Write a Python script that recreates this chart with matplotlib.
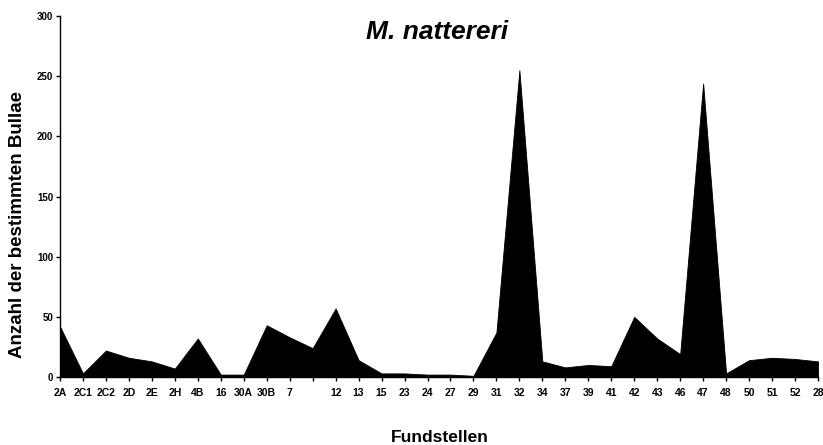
import matplotlib
matplotlib.use("Agg")
import matplotlib.pyplot as plt
import numpy as np

# Fundstellen (sites) along the x axis; one slot is left unlabeled
sites = ["2A", "2C1", "2C2", "2D", "2E", "2H", "4B", "16", "30A", "30B", "7", "",
         "12", "13", "15", "23", "24", "27", "29", "31", "32", "34", "37", "39",
         "41", "42", "43", "46", "47", "48", "50", "51", "52", "28"]

# Number of identified bullae per site
counts = [42, 3, 22, 16, 13, 7, 32, 2, 2, 43, 33, 24,
          57, 14, 3, 3, 2, 2, 1, 37, 255, 13, 8, 10,
          9, 50, 32, 19, 244, 3, 14, 16, 15, 13]

yticks = [0, 50, 100, 150, 200, 250, 300]

plt.rcParams['font.family'] = ['Liberation Sans', 'DejaVu Sans']

fig = plt.figure(figsize=(8.23, 4.45), dpi=100)
ax = fig.add_axes([0.0729, 0.1528, 0.9210, 0.8112])

x = np.arange(len(sites))
ax.fill_between(x, 0, counts, color="black", linewidth=0.6, edgecolor="black")

ax.set_xlim(0, len(sites) - 1)
ax.set_ylim(0, 300)
ax.set_yticks(yticks)
ax.set_yticklabels([str(v) for v in yticks], fontsize=7, fontweight="bold")
ax.set_xticks(x)
ax.set_xticklabels(sites, fontsize=7.5, fontweight="bold")

for side in ("top", "right"):
    ax.spines[side].set_visible(False)
for side in ("left", "bottom"):
    ax.spines[side].set_linewidth(1.0)
    ax.spines[side].set_color("black")

ax.tick_params(axis="y", direction="out", length=3, width=1, pad=2)
ax.tick_params(axis="x", direction="out", length=3, width=1, pad=5)

fig.text(18 / 823, 1 - 225 / 445, "Anzahl der bestimmten Bullae", rotation=90,
         ha="center", va="center", fontsize=13.5, fontweight="bold")
fig.text(440 / 823, 1 - 438 / 445, "Fundstellen", ha="center", va="center",
         fontsize=12.5, fontweight="bold")
fig.text(437 / 823, 1 - 32 / 445, "M. nattereri", ha="center", va="center",
         fontsize=19, fontweight="bold", fontstyle="italic")

fig.savefig("out.png", dpi=100)
